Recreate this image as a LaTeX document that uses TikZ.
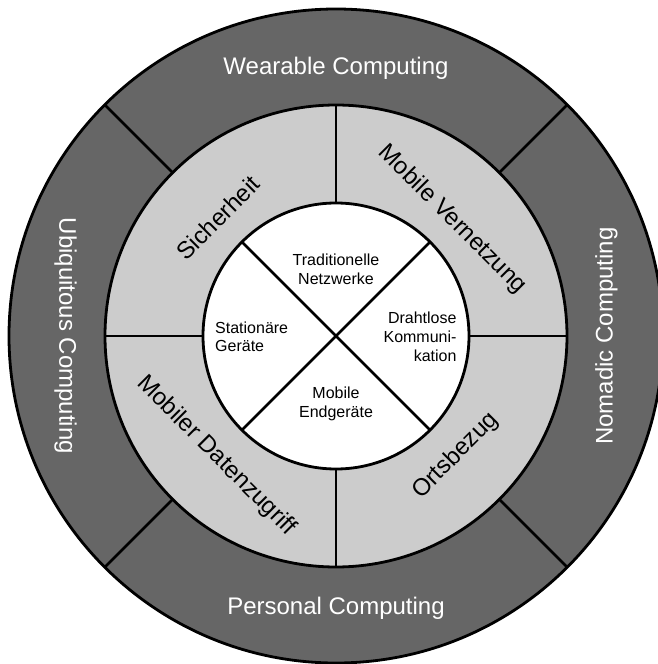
\documentclass[tikz,border=0pt]{standalone}
\usepackage{fontspec}
\setmainfont{Liberation Sans}
\definecolor{ringdark}{HTML}{666666}
\definecolor{ringlight}{HTML}{CCCCCC}
\begin{document}
\begin{tikzpicture}[x=1pt,y=1pt,
  rim/.style={line width=2.8pt, draw=black},
  outerlabel/.style={font=\fontsize{24}{28}\selectfont, text=white, inner sep=0pt,
                     text height=17.2pt, text depth=0pt},
  midlabel/.style={font=\fontsize{24}{28}\selectfont, text=black, inner sep=0pt,
                   text height=17.2pt, text depth=0pt},
  corelabel/.style={font=\fontsize{16}{18.8}\selectfont, text=black, inner sep=0pt}]
\def\radOuter{327}
\def\radMid{231}
\def\radCore{133}
\useasboundingbox (-336,-328) rectangle (321,336);

% three concentric discs
\fill[ringdark] (0,0) circle (\radOuter);
\fill[ringlight] (0,0) circle (\radMid);
\fill[white] (0,0) circle (\radCore);

% sector dividers
\foreach \a in {45,135,225,315}
  \draw[rim] (\a:\radMid) -- (\a:\radOuter);
\foreach \a in {0,90,180,270}
  \draw[rim] (\a:\radCore) -- (\a:\radMid);
\draw[rim] (45:\radCore) -- (225:\radCore);
\draw[rim] (135:\radCore) -- (315:\radCore);

% ring outlines
\draw[rim] (0,0) circle (\radOuter);
\draw[rim] (0,0) circle (\radMid);
\draw[rim] (0,0) circle (\radCore);

% outer ring
\node[outerlabel] (wear) at (90:270) {Wearable Computing};
\node[outerlabel] (pers) at (-90:270) {Personal Computing};
\node[outerlabel, rotate=-90] (ubi) at (180:268) {Ubiquitous Computing};
\node[outerlabel, rotate=90] (nom) at (0:268) {Nomadic Computing};

% middle ring
\node[midlabel, rotate=45] (sich) at (135:167) {Sicherheit};
\node[midlabel, rotate=-45] (vern) at (45:167) {Mobile Vernetzung};
\node[midlabel, rotate=45] (orts) at (-45:167) {Ortsbezug};
\node[midlabel, rotate=-45] (daten) at (-135:167) {Mobiler Datenzugriff};

% core
\node[corelabel, align=center] (trad) at (0,66.5) {Traditionelle\\Netzwerke};
\node[corelabel, align=left, anchor=west] (stat) at (-121,-0.7) {Stationäre\\Geräte};
\node[corelabel, align=right, anchor=east] (draht) at (120.7,-0.7) {Drahtlose\\Kommuni-\\kation};
\node[corelabel, align=center] (mob) at (0,-68) {Mobile\\Endgeräte};
\end{tikzpicture}
\end{document}
